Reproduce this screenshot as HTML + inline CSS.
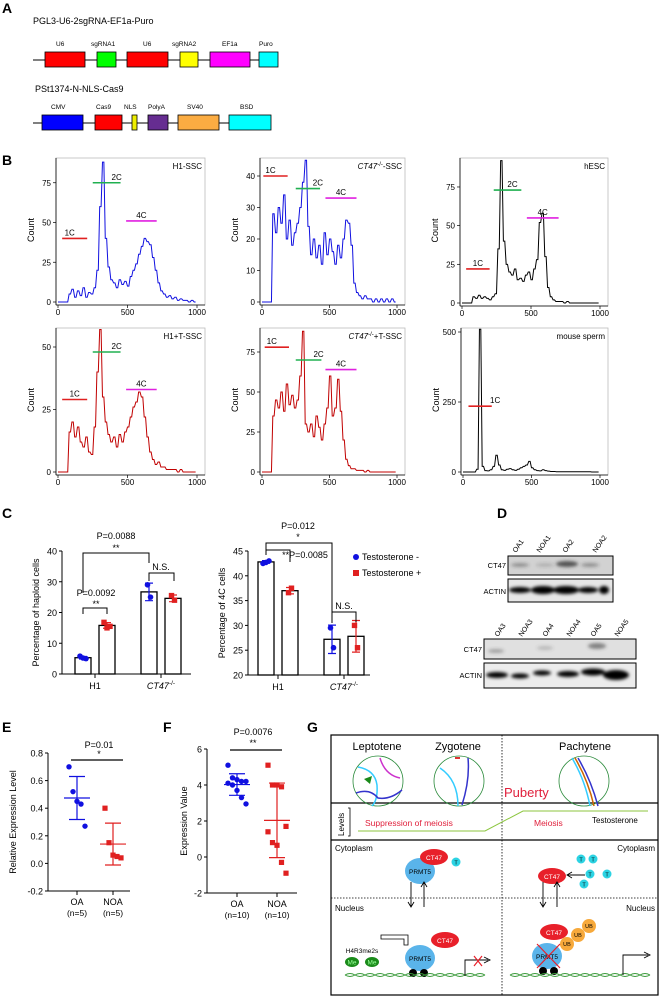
<!DOCTYPE html>
<html><head><meta charset="utf-8"><style>
html,body{margin:0;padding:0;background:#fff;}
svg{display:block;font-family:"Liberation Sans",Arial,sans-serif;}
</style></head><body>
<svg id="fig" width="660" height="996" viewBox="0 0 660 996" xmlns="http://www.w3.org/2000/svg">
<defs>
<filter id="blur1" x="-20%" y="-50%" width="140%" height="200%"><feGaussianBlur stdDeviation="1.6"/></filter>
</defs>
<!-- Panel letters -->
<g font-weight="bold" font-size="14" fill="#000">
<text x="2" y="13">A</text>
<text x="2" y="165">B</text>
<text x="2" y="518">C</text>
<text x="497" y="518">D</text>
<text x="2" y="732">E</text>
<text x="163" y="732">F</text>
<text x="307" y="732">G</text>
</g>
<!-- Panel A -->
<g font-size="6.5">
<text x="33" y="24" font-size="9">PGL3-U6-2sgRNA-EF1a-Puro</text>
<line x1="33" y1="60" x2="278" y2="60" stroke="#000" stroke-width="1"/>
<rect x="45" y="52" width="40" height="15" fill="#f00" stroke="#000" stroke-width="0.8"/>
<rect x="97" y="52" width="19" height="15" fill="#0f0" stroke="#000" stroke-width="0.8"/>
<rect x="127" y="52" width="41" height="15" fill="#f00" stroke="#000" stroke-width="0.8"/>
<rect x="180" y="52" width="18" height="15" fill="#ff0" stroke="#000" stroke-width="0.8"/>
<rect x="210" y="52" width="40" height="15" fill="#f0f" stroke="#000" stroke-width="0.8"/>
<rect x="259" y="52" width="19" height="15" fill="#0ff" stroke="#000" stroke-width="0.8"/>
<text x="56" y="46">U6</text><text x="91" y="46">sgRNA1</text><text x="143" y="46">U6</text><text x="172" y="46">sgRNA2</text><text x="222" y="46">EF1a</text><text x="259" y="46">Puro</text>
<text x="35" y="92" font-size="9">PSt1374-N-NLS-Cas9</text>
<line x1="33" y1="123" x2="271" y2="123" stroke="#000" stroke-width="1"/>
<rect x="42" y="115" width="41" height="15" fill="#00f" stroke="#000" stroke-width="0.8"/>
<rect x="95" y="115" width="27" height="15" fill="#f00" stroke="#000" stroke-width="0.8"/>
<rect x="132" y="115" width="5" height="15" fill="#ee0" stroke="#000" stroke-width="0.8"/>
<rect x="148" y="115" width="20" height="15" fill="#662d91" stroke="#000" stroke-width="0.8"/>
<rect x="178" y="115" width="41" height="15" fill="#fbac42" stroke="#000" stroke-width="0.8"/>
<rect x="229" y="115" width="42" height="15" fill="#0ff" stroke="#000" stroke-width="0.8"/>
<text x="51" y="109">CMV</text><text x="96" y="109">Cas9</text><text x="124" y="109">NLS</text><text x="148" y="109">PolyA</text><text x="187" y="109">SV40</text><text x="240" y="109">BSD</text>
</g>
<g id="hists"></g>
<g id="panelC"></g>
<!-- Panel D blots -->
<g font-size="7.5">
<g font-size="7">
<text transform="translate(516,553) rotate(-55)">OA1</text>
<text transform="translate(540,553) rotate(-55)">NOA1</text>
<text transform="translate(566,553) rotate(-55)">OA2</text>
<text transform="translate(596,553) rotate(-55)">NOA2</text>
</g>
<text x="506" y="568" text-anchor="end">CT47</text>
<text x="506" y="594" text-anchor="end">ACTIN</text>
<rect x="508" y="556" width="105" height="19" fill="#d2d2d2" stroke="#000"/>
<g filter="url(#blur1)" fill="#333"><ellipse cx="520" cy="565" rx="9" ry="2" opacity="0.4"/><ellipse cx="545" cy="565" rx="9" ry="2" opacity="0.2"/><ellipse cx="567" cy="564" rx="11" ry="3" opacity="0.8"/><ellipse cx="590" cy="565" rx="9" ry="2" opacity="0.4"/></g>
<rect x="508" y="579" width="105" height="23" fill="#e6e6e6" stroke="#000"/>
<g filter="url(#blur1)" fill="#000"><ellipse cx="520" cy="590" rx="11" ry="3"/><ellipse cx="543" cy="590" rx="12" ry="4"/><ellipse cx="566" cy="590" rx="13" ry="4"/><ellipse cx="588" cy="590" rx="10" ry="3"/><ellipse cx="604" cy="590" rx="5" ry="4"/></g>
<g font-size="7">
<text transform="translate(498,637) rotate(-55)">OA3</text>
<text transform="translate(522,637) rotate(-55)">NOA3</text>
<text transform="translate(546,637) rotate(-55)">OA4</text>
<text transform="translate(570,637) rotate(-55)">NOA4</text>
<text transform="translate(594,637) rotate(-55)">OA5</text>
<text transform="translate(618,637) rotate(-55)">NOA5</text>
</g>
<text x="482" y="652" text-anchor="end">CT47</text>
<text x="482" y="678" text-anchor="end">ACTIN</text>
<rect x="484" y="639" width="152" height="20" fill="#e0e0e0" stroke="#000"/>
<g filter="url(#blur1)" fill="#444"><ellipse cx="496" cy="651" rx="8" ry="2" opacity="0.4"/><ellipse cx="545" cy="648" rx="8" ry="2" opacity="0.25"/><ellipse cx="597" cy="646" rx="9" ry="3" opacity="0.6"/></g>
<rect x="484" y="663" width="152" height="25" fill="#ececec" stroke="#000"/>
<g filter="url(#blur1)" fill="#000"><ellipse cx="497" cy="675" rx="11" ry="3"/><ellipse cx="520" cy="676" rx="9" ry="2.5"/><ellipse cx="542" cy="673" rx="9" ry="2.5"/><ellipse cx="568" cy="674" rx="11" ry="3"/><ellipse cx="593" cy="672" rx="12" ry="3.5"/><ellipse cx="616" cy="675" rx="13" ry="5"/></g>
</g>
<g id="panelEF"></g>
<!-- Panel G -->
<g font-size="8">
<rect x="331" y="735" width="327" height="260" fill="none" stroke="#000" stroke-width="1.2"/>
<line x1="331" y1="803" x2="658" y2="803" stroke="#000" stroke-width="1.2"/>
<line x1="331" y1="840" x2="658" y2="840" stroke="#000" stroke-width="1.2"/>
<line x1="502" y1="735" x2="502" y2="995" stroke="#000" stroke-width="0.8" stroke-dasharray="1.5,1.5"/>
<line x1="331" y1="898" x2="658" y2="898" stroke="#000" stroke-width="0.8" stroke-dasharray="1.5,1.5"/>
<text x="377" y="750" font-size="11" text-anchor="middle">Leptotene</text>
<text x="458" y="750" font-size="11" text-anchor="middle">Zygotene</text>
<text x="585" y="750" font-size="11" text-anchor="middle">Pachytene</text>
<circle cx="378" cy="781" r="25" fill="none" stroke="#2a8a3a" stroke-width="0.8"/>
<circle cx="459" cy="781" r="25" fill="none" stroke="#2a8a3a" stroke-width="0.8"/>
<circle cx="584" cy="781" r="25" fill="none" stroke="#2a8a3a" stroke-width="0.8"/>
<path d="M358,767 Q375,770 377,785 Q378,800 372,806" fill="none" stroke="#3cf" stroke-width="1.5"/>
<path d="M380,758 Q385,775 400,778" fill="none" stroke="#c3c" stroke-width="1.5"/>
<path d="M356,793 Q370,788 378,798 Q390,800 402,790" fill="none" stroke="#33c" stroke-width="1.5"/>
<polygon points="364,779 372,776 370,784" fill="#1a8a1a"/>
<path d="M440,768 Q458,780 458,806" fill="none" stroke="#3cf" stroke-width="1.5"/>
<path d="M468,758 Q470,780 462,805" fill="none" stroke="#33c" stroke-width="1.5"/>
<rect x="455" y="757" width="5" height="2" fill="#d33"/>
<path d="M572,758 Q585,780 590,806" fill="none" stroke="#3cf" stroke-width="1.5"/>
<path d="M575,758 Q588,780 594,806" fill="none" stroke="#c60" stroke-width="1.5"/>
<path d="M578,758 Q591,780 598,806" fill="none" stroke="#33c" stroke-width="1.5"/>
<text x="504" y="797" font-size="13" fill="#e0203c">Puberty</text>
<text transform="translate(344,836) rotate(-90)" font-size="8">Levels</text>
<path d="M348,808 L350,808 L350,836 L348,836" fill="none" stroke="#000" stroke-width="0.8"/>
<polyline points="358,831 485,831 523,811 648,811" fill="none" stroke="#8cc63f" stroke-width="1"/>
<text x="365" y="826" font-size="8.5" fill="#e0203c">Suppression of meiosis</text>
<text x="534" y="826" font-size="8.5" fill="#e0203c">Meiosis</text>
<text x="592" y="823" font-size="8">Testosterone</text>
<text x="335" y="851">Cytoplasm</text>
<text x="655" y="851" text-anchor="end">Cytoplasm</text>
<text x="335" y="911">Nucleus</text>
<text x="655" y="911" text-anchor="end">Nucleus</text>
<g font-size="6.5" text-anchor="middle">
<ellipse cx="420" cy="871" rx="15" ry="13" fill="#5ab4ea"/><text x="420" y="874">PRMT5</text>
<ellipse cx="434" cy="857" rx="14" ry="8" fill="#e8202a"/><text x="434" y="860" fill="#fff">CT47</text>
<circle cx="456" cy="862" r="4.5" fill="#2cd3e3"/><text x="456" y="864.5" font-size="5.5">T</text>
<ellipse cx="552" cy="876" rx="14" ry="8" fill="#e8202a"/><text x="552" y="879" fill="#fff">CT47</text>
<circle cx="581" cy="859" r="4.5" fill="#2cd3e3"/><text x="581" y="861.5" font-size="5.5">T</text>
<circle cx="593" cy="859" r="4.5" fill="#2cd3e3"/><text x="593" y="861.5" font-size="5.5">T</text>
<circle cx="590" cy="874" r="4.5" fill="#2cd3e3"/><text x="590" y="876.5" font-size="5.5">T</text>
<circle cx="607" cy="874" r="4.5" fill="#2cd3e3"/><text x="607" y="876.5" font-size="5.5">T</text>
<circle cx="584" cy="884" r="4.5" fill="#2cd3e3"/><text x="584" y="886.5" font-size="5.5">T</text>
<ellipse cx="445" cy="940" rx="14" ry="8" fill="#e8202a"/><text x="445" y="943" fill="#fff">CT47</text>
<ellipse cx="420" cy="958" rx="15" ry="13" fill="#5ab4ea"/><text x="420" y="961">PRMT5</text>
<ellipse cx="352" cy="962" rx="7" ry="5" fill="#1a8a1a"/><text x="352" y="964.5" fill="#9f9">Me</text>
<ellipse cx="372" cy="962" rx="7" ry="5" fill="#1a8a1a"/><text x="372" y="964.5" fill="#9f9">Me</text>
<text x="362" y="953" font-size="6.5">H4R3me2s</text>
<ellipse cx="554" cy="932" rx="14" ry="8" fill="#e8202a"/><text x="554" y="935" fill="#fff">CT47</text>
<circle cx="589" cy="926" r="7" fill="#f7a93b"/><text x="589" y="928" font-size="5.5">UB</text>
<circle cx="578" cy="935" r="7" fill="#f7a93b"/><text x="578" y="937" font-size="5.5">UB</text>
<circle cx="567" cy="944" r="7" fill="#f7a93b"/><text x="567" y="946" font-size="5.5">UB</text>
<ellipse cx="547" cy="956" rx="15" ry="13" fill="#5ab4ea"/><text x="547" y="959">PRMT5</text>
</g>
<path d="M537,944 L560,968 M560,944 L537,968" stroke="#e8202a" stroke-width="1.2"/>
<circle cx="413" cy="973" r="4" fill="#000"/><circle cx="424" cy="973" r="4" fill="#000"/>
<circle cx="543" cy="971" r="4" fill="#000"/><circle cx="554" cy="971" r="4" fill="#000"/>
<path d="M345,975 q5,-3 10,0 t10,0 t10,0 t10,0 t10,0 t10,0 t10,0 t10,0 t10,0 t10,0 t10,0 t10,0 t10,0 t10,0 M345,975 q5,3 10,0 t10,0 t10,0 t10,0 t10,0 t10,0 t10,0 t10,0 t10,0 t10,0 t10,0 t10,0 t10,0 t10,0" fill="none" stroke="#3a9a3a" stroke-width="0.9"/>
<path d="M510,975 q5,-3 10,0 t10,0 t10,0 t10,0 t10,0 t10,0 t10,0 t10,0 t10,0 t10,0 t10,0 t10,0 t10,0 t10,0 M510,975 q5,3 10,0 t10,0 t10,0 t10,0 t10,0 t10,0 t10,0 t10,0 t10,0 t10,0 t10,0 t10,0 t10,0 t10,0" fill="none" stroke="#3a9a3a" stroke-width="0.9"/>
<g stroke="#000" stroke-width="0.9" fill="none">
<path d="M411,882 L411,906 M408,902 L411,907 L414,902"/>
<path d="M424,907 L424,883 M421,887 L424,882 L427,887"/>
<path d="M543,882 L543,906 M540,902 L543,907 L546,902"/>
<path d="M557,907 L557,883 M554,887 L557,882 L560,887"/>
<path d="M585,875 L568,875 M572,872 L567,875 L572,878"/>
<path d="M465,976 L465,960 L488,960 M484,957 L490,960 L484,963"/>
<path d="M623,975 L623,955 L648,955 M644,952 L650,955 L644,958"/>
<path d="M408,945 L408,935 L381,935 L381,939 L404,939 L404,945 Z" stroke-width="0.8"/>
</g>
<path d="M474,956 L482,966 M482,956 L474,966" stroke="#e8202a" stroke-width="1.2"/>
</g>
<script>
// ===== Panel B data: histogram counts in 20-unit bins (0..1000) =====
const binsH1 = [0,0,0,0,5,8,3,7,4,9,3,6,5,9,20,60,88,40,22,14,12,9,14,11,13,10,16,20,24,30,35,40,38,36,28,20,12,7,5,3,4,2,3,1,2,1,1,0,1,0];
const binsCT47 = [0,0,0,0,28,22,30,25,34,20,26,18,22,25,30,38,45,24,15,20,14,18,12,22,15,20,16,12,18,14,20,26,25,18,6,3,2,1,2,1,1,0,1,0,1,0,1,0,1,0];
const binsHESC = [0,0,0,0,4,3,5,3,4,3,2,4,6,35,92,40,25,20,18,22,15,16,14,18,20,15,22,28,52,58,30,10,4,2,1,1,1,0,1,0,0,0,0,0,0,0,0,0,0,0];
const binsH1T = [0,0,0,0,16,20,14,18,12,10,14,8,7,18,40,57,30,20,15,12,14,10,15,12,16,18,22,26,28,32,30,22,14,8,5,3,4,2,2,1,1,1,1,0,1,0,0,0,0,0];
const binsCT47T = [0,0,0,0,35,45,40,50,38,55,42,48,40,45,60,88,30,25,30,22,35,28,20,30,40,60,35,40,58,38,20,8,4,2,2,1,1,1,0,1,0,0,0,0,0,0,0,0,0,0];
const binsSperm = [0,0,0,0,0,10,510,20,5,4,8,20,60,25,8,6,10,12,8,6,10,15,20,25,38,15,8,5,4,8,5,3,2,2,1,1,1,1,1,1,1,1,1,1,1,1,1,0,0,0];
const histTitles = ["H1-SSC","CT47-/--SSC","hESC","H1+T-SSC","CT47-/-+T-SSC","mouse sperm"];
const histYTicks1 = [0,25,50,75];
const histYTicks2 = [0,10,20,30,40];
const histYTicks6 = [0,250,500];
const histXTicks = [0,500,1000];

// ===== Panel C data =====
const cCategories = ["H1","CT47-/-"];
const haploidMinus = [5.3, 26.7];
const haploidPlus = [15.8, 24.6];
const haploidMinusPts = [[5.8,5.2,5.0],[29.0,25.0]];
const haploidPlusPts = [[16.8,15.0,15.5],[25.5,24.0]];
const fourCMinus = [42.8, 27.2];
const fourCPlus = [37.0, 27.8];
const fourCMinusPts = [[42.5,42.7,43.0],[29.5,25.5]];
const fourCPlusPts = [[36.6,37.5],[30.0,25.5]];
const haploidTicks = [0,10,20,30,40];
const fourCTicks = [20,25,30,35,40,45];

// ===== Panel E/F data =====
const eOA = [0.70,0.52,0.45,0.43,0.27];
const eNOA = [0.40,0.15,0.06,0.05,0.04];
const eTicks = [-0.2,0,0.2,0.4,0.6,0.8];
const fOA = [5.1,4.4,4.3,4.2,4.2,4.1,4.0,3.7,3.3,2.95];
const fNOA = [5.1,4.0,4.0,3.9,1.7,1.4,0.8,0.65,-0.3,-0.9];
const fTicks = [-2,0,2,4,6];

const NS = "http://www.w3.org/2000/svg";
function el(parent, tag, attrs, text){
  const e = document.createElementNS(NS, tag);
  for (const k in attrs) e.setAttribute(k, attrs[k]);
  if (text !== undefined) e.textContent = text;
  parent.appendChild(e);
  return e;
}
function fmt(v){ return Math.abs(v)<1e-9 ? "0.0" : v.toFixed(1); }

// ---- Panel B ----
const hg = document.getElementById('hists');
function hist(cfg){
  const g = el(hg,'g',{});
  
  
  const xs = v => cfg.x0 + v/1000*(cfg.x1-cfg.x0);
  const ys = v => cfg.y0 - v*cfg.ppu;
  const frame = el(g,'rect',{x:cfg.x0-2,y:cfg.top,width:(cfg.x1-cfg.x0)+10,height:cfg.y0+3-cfg.top,fill:'none',stroke:'#bbb','stroke-width':0.8});
  
  
  el(g,'line',{x1:cfg.x0-2,y1:cfg.top,x2:cfg.x0-2,y2:cfg.y0+3,stroke:'#000','stroke-width':0.8});
  el(g,'line',{x1:cfg.x0-2,y1:cfg.y0+3,x2:cfg.x1+8,y2:cfg.y0+3,stroke:'#000','stroke-width':0.8});
  cfg.yt.forEach(t=>{
    el(g,'line',{x1:cfg.x0-5,y1:ys(t),x2:cfg.x0-2,y2:ys(t),stroke:'#000','stroke-width':0.7});
    const tl = el(g,'text',{x:cfg.x0-7,y:ys(t)+3,'font-size':8,'text-anchor':'end'},String(t));
    
    
  });
  histXTicks.forEach(t=>{
    el(g,'line',{x1:xs(t),y1:cfg.y0+3,x2:xs(t),y2:cfg.y0+6,stroke:'#000','stroke-width':0.7});
    const tl = el(g,'text',{x:xs(t),y:cfg.y0+13,'font-size':8,'text-anchor':'middle'},String(t));
    
    
  });
  const yt = el(g,'text',{transform:`translate(${cfg.x0-24},${(cfg.top+cfg.y0)/2}) rotate(-90)`,'font-size':9,'text-anchor':'middle'},'Count');
  
  
  const n = cfg.data.length, bw = 1000/n;
  let pts = [];
  cfg.data.forEach((v,i)=>{ const vv=Math.min(v,cfg.cap); pts.push(xs(i*bw)+','+ys(vv)); pts.push(xs((i+0.5)*bw)+','+ys(vv)); });
  const line = el(g,'polyline',{points:pts.join(' '),fill:'none',stroke:cfg.color,'stroke-width':1,'stroke-linejoin':'miter'});
  
  
  const title = el(g,'text',{x:cfg.x1+5,y:cfg.top+11,'font-size':8,'text-anchor':'end'});
  
  
  if (cfg.italic){
    el(title,'tspan',{'font-style':'italic'},'CT47');
    el(title,'tspan',{'font-size':6,dy:-3},'-/-');
    el(title,'tspan',{dy:3},cfg.suffix);
  } else title.textContent = cfg.title;
  const colors = {"1C":"#e02020","2C":"#20b050","4C":"#e020e0"};
  cfg.marks.forEach(m=>{
    const ln = el(g,'line',{x1:xs(m[1]),y1:ys(m[3]),x2:xs(m[2]),y2:ys(m[3]),stroke:colors[m[0]],'stroke-width':1.6});
    
    
    const lb = el(g,'text',{x:xs((m[1]+m[2])/2)+(m[4]||0),y:ys(m[3])-3,'font-size':8,'text-anchor':'middle'},m[0]);
    
    
  });
}
hist({key:'h1-ssc',x0:58,x1:197,y0:302,top:158,ppu:1.59,cap:90.5,yt:histYTicks1,color:'#1010e0',data:binsH1,title:histTitles[0],
  marks:[["1C",30,210,40,-5],["2C",250,450,75,10],["4C",490,710,51,0]]});
hist({key:'ct47-ssc',x0:262,x1:397,y0:302,top:158,ppu:3.15,cap:45.5,yt:histYTicks2,color:'#1010e0',data:binsCT47,italic:true,suffix:'-SSC',
  marks:[["1C",10,190,40,-5],["2C",250,430,36,10],["4C",470,700,33,0]]});
hist({key:'hesc',x0:462,x1:600,y0:303,top:158,ppu:1.547,cap:93.5,yt:histYTicks1,color:'#000',data:binsHESC,title:histTitles[2],
  marks:[["1C",30,200,22,0],["2C",230,430,73,5],["4C",470,700,55,0]]});
hist({key:'h1-t-ssc',x0:58,x1:197,y0:472,top:328,ppu:2.5,cap:57.5,yt:histYTicks1.slice(0,3),color:'#c00000',data:binsH1T,title:histTitles[3],
  marks:[["1C",30,210,29,0],["2C",250,450,48,10],["4C",490,710,33,0]]});
hist({key:'ct47-t-ssc',x0:262,x1:397,y0:472,top:328,ppu:1.6,cap:90,yt:histYTicks1,color:'#c00000',data:binsCT47T,italic:true,suffix:'+T-SSC',
  marks:[["1C",20,200,78,-5],["2C",250,440,70,10],["4C",470,700,64,0]]});
hist({key:'mouse-sperm',x0:463,x1:600,y0:472,top:328,ppu:0.28,cap:514,yt:histYTicks6,color:'#000',data:binsSperm,title:histTitles[5],
  marks:[["1C",40,210,235,15]]});

// ---- Panel C ----
const cg = document.getElementById('panelC');
function barChart(cfg){
  const g = el(cg,'g',{});
  
  
  const ys = v => cfg.yBase - (v-cfg.vmin)*cfg.ppu;
  el(g,'line',{x1:cfg.ax,y1:ys(cfg.ticks[cfg.ticks.length-1]),x2:cfg.ax,y2:cfg.yBase,stroke:'#000','stroke-width':1});
  el(g,'line',{x1:cfg.ax,y1:cfg.yBase,x2:cfg.axEnd,y2:cfg.yBase,stroke:'#000','stroke-width':1});
  cfg.ticks.forEach(t=>{
    el(g,'line',{x1:cfg.ax-3,y1:ys(t),x2:cfg.ax,y2:ys(t),stroke:'#000','stroke-width':1});
    const tl = el(g,'text',{x:cfg.ax-5,y:ys(t)+3.5,'font-size':9,'text-anchor':'end'},String(t));
    
    
  });
  const yt = el(g,'text',{transform:`translate(${cfg.ax-23},${(cfg.yBase+ys(cfg.ticks[cfg.ticks.length-1]))/2}) rotate(-90)`,'font-size':9,'text-anchor':'middle'},cfg.title);
  
  
  cCategories.forEach((c,gi)=>{
    const gc = cfg.g0 + gi*cfg.gstep;
    el(g,'line',{x1:gc,y1:cfg.yBase,x2:gc,y2:cfg.yBase+4,stroke:'#000','stroke-width':1});
    const lab = el(g,'text',{x:gc,y:cfg.yBase+15,'font-size':9,'text-anchor':'middle'});
    
    
    if (gi===0) lab.textContent = c; else { el(lab,'tspan',{'font-style':'italic'},'CT47'); el(lab,'tspan',{'font-size':6.5,dy:-4},'-/-'); }
    [[cfg.minus,cfg.minusPts,'#1010e0','circle',-1],[cfg.plus,cfg.plusPts,'#e02020','square',1]].forEach(s=>{
      const cx = gc + s[4]*cfg.off;
      const bar = el(g,'rect',{x:cx-cfg.bw/2,y:ys(s[0][gi]),width:cfg.bw,height:cfg.yBase-ys(s[0][gi]),fill:'#fff',stroke:'#000','stroke-width':1.3});
      
      
      const pts = s[1][gi];
      const m = s[0][gi];
      const sd = Math.sqrt(pts.reduce((a,v)=>a+(v-m)*(v-m),0)/Math.max(1,pts.length-1));
      const eb = el(g,'path',{d:`M${cx},${ys(m-sd)}V${ys(m+sd)}M${cx-4},${ys(m-sd)}H${cx+4}M${cx-4},${ys(m+sd)}H${cx+4}`,stroke:s[2],'stroke-width':1.2,fill:'none'});
      
      
      pts.forEach((v,i)=>{
        const px = cx + (i-(pts.length-1)/2)*3;
        let p;
        if (s[3]==='circle') p = el(g,'circle',{cx:px,cy:ys(v),r:2.8,fill:s[2]});
        else p = el(g,'rect',{x:px-2.7,y:ys(v)-2.7,width:5.4,height:5.4,fill:s[2]});
        
        
      });
    });
  });
  return ys;
}
const ysL = barChart({key:'haploid-bar-chart',ax:62,axEnd:191,yBase:674,vmin:0,ppu:3.075,ticks:haploidTicks,title:'Percentage of haploid cells',
  g0:95,gstep:66,off:12,bw:16,minus:haploidMinus,plus:haploidPlus,minusPts:haploidMinusPts,plusPts:haploidPlusPts});
const ysR = barChart({key:'fourc-bar-chart',ax:248,axEnd:370,yBase:675,vmin:20,ppu:4.96,ticks:fourCTicks,title:'Percentage of 4C cells',
  g0:278,gstep:66,off:12,bw:16,minus:fourCMinus,plus:fourCPlus,minusPts:fourCMinusPts,plusPts:fourCPlusPts});
(function(){
  const g = el(cg,'g',{'font-size':9,'text-anchor':'middle'});
  
  
  const br=(x1,x2,y,d1,d2)=>el(g,'path',{d:`M${x1},${y+d1}V${y}H${x2}V${y+d2}`,fill:'none',stroke:'#000','stroke-width':1});
  br(83,149,553,40,10); el(g,'text',{x:116,y:539},'P=0.0088'); el(g,'text',{x:116,y:551},'**');
  br(149,174,573,8,8); el(g,'text',{x:161,y:570},'N.S.');
  br(83,107,608,6,6); el(g,'text',{x:96,y:596},'P=0.0092'); el(g,'text',{x:96,y:607},'**');
  br(266,332,543,10,80); el(g,'text',{x:298,y:529},'P=0.012'); el(g,'text',{x:298,y:540},'*');
  br(266,290,550,5,12); el(g,'text',{x:305,y:558},'**P=0.0085');
  br(332,356,612,8,10); el(g,'text',{x:344,y:609},'N.S.');
  const l1 = el(g,'circle',{cx:356,cy:557,r:3,fill:'#1010e0'});
  
  
  const t1 = el(g,'text',{x:362,y:560,'text-anchor':'start'},'Testosterone -');
  
  
  const l2 = el(g,'rect',{x:353,y:570,width:6,height:6,fill:'#e02020'});
  
  
  const t2 = el(g,'text',{x:362,y:576,'text-anchor':'start'},'Testosterone +');
  
  
})();

// ---- Panels E & F ----
const efg = document.getElementById('panelEF');
function scatter(cfg){
  const g = el(efg,'g',{});
  
  
  const ys = v => cfg.y0 - (v-cfg.vmin)*cfg.ppu;
  const top = ys(cfg.ticks[cfg.ticks.length-1]);
  el(g,'line',{x1:cfg.ax,y1:top,x2:cfg.ax,y2:cfg.y0,stroke:'#000','stroke-width':1});
  el(g,'line',{x1:cfg.ax,y1:cfg.y0,x2:cfg.axEnd,y2:cfg.y0,stroke:'#000','stroke-width':1});
  cfg.ticks.forEach(t=>{
    el(g,'line',{x1:cfg.ax-3,y1:ys(t),x2:cfg.ax,y2:ys(t),stroke:'#000','stroke-width':1});
    const tl = el(g,'text',{x:cfg.ax-5,y:ys(t)+3.5,'font-size':9,'text-anchor':'end'},cfg.fmt(t));
    
    
  });
  const yt = el(g,'text',{transform:`translate(${cfg.ax-cfg.titleOff},${(cfg.y0+top)/2}) rotate(-90)`,'font-size':9,'text-anchor':'middle'},cfg.title);
  
  
  [[cfg.oa,cfg.xOA,'#1010e0','circle','OA'],[cfg.noa,cfg.xNOA,'#e02020','square','NOA']].forEach(s=>{
    el(g,'line',{x1:s[1],y1:cfg.y0,x2:s[1],y2:cfg.y0+4,stroke:'#000','stroke-width':1});
    const lb = el(g,'text',{x:s[1],y:cfg.y0+14,'font-size':9,'text-anchor':'middle'},s[4]);
    
    
    const nb = el(g,'text',{x:s[1],y:cfg.y0+25,'font-size':8.5,'text-anchor':'middle'},'(n='+s[0].length+')');
    
    
    const m = s[0].reduce((a,v)=>a+v,0)/s[0].length;
    const sd = Math.sqrt(s[0].reduce((a,v)=>a+(v-m)*(v-m),0)/(s[0].length-1));
    const eb = el(g,'path',{d:`M${s[1]},${ys(m-sd)}V${ys(m+sd)}M${s[1]-8},${ys(m-sd)}H${s[1]+8}M${s[1]-8},${ys(m+sd)}H${s[1]+8}M${s[1]-13},${ys(m)}H${s[1]+13}`,stroke:s[2],'stroke-width':1.2,fill:'none'});
    
    
    s[0].forEach((v,i)=>{
      const px = s[1] + ((i%5)-2)*cfg.jit;
      let p;
      if (s[3]==='circle') p = el(g,'circle',{cx:px,cy:ys(v),r:2.7,fill:s[2]});
      else p = el(g,'rect',{x:px-2.6,y:ys(v)-2.6,width:5.2,height:5.2,fill:s[2]});
      
      
    });
  });
}
scatter({key:'relative-expression-scatter',ax:48,axEnd:130,y0:891,vmin:-0.2,ppu:138,ticks:eTicks,fmt:fmt,title:'Relative Expression Level',titleOff:32,
  xOA:77,xNOA:113,oa:eOA,noa:eNOA,jit:4});
scatter({key:'expression-value-scatter',ax:207,axEnd:297,y0:893,vmin:-2,ppu:18,ticks:fTicks,fmt:String,title:'Expression Value',titleOff:20,
  xOA:237,xNOA:277,oa:fOA,noa:fNOA,jit:4.5});
(function(){
  const g = el(efg,'g',{'font-size':9,'text-anchor':'middle'});
  
  
  el(g,'text',{x:99,y:748},'P=0.01'); el(g,'text',{x:99,y:757},'*');
  el(g,'line',{x1:71,y1:760,x2:123,y2:760,stroke:'#000','stroke-width':1.2});
  el(g,'text',{x:253,y:735},'P=0.0076'); el(g,'text',{x:253,y:746},'**');
  el(g,'line',{x1:230,y1:750,x2:282,y2:750,stroke:'#000','stroke-width':1.2});
})();
</script>
</svg>
</body></html>
